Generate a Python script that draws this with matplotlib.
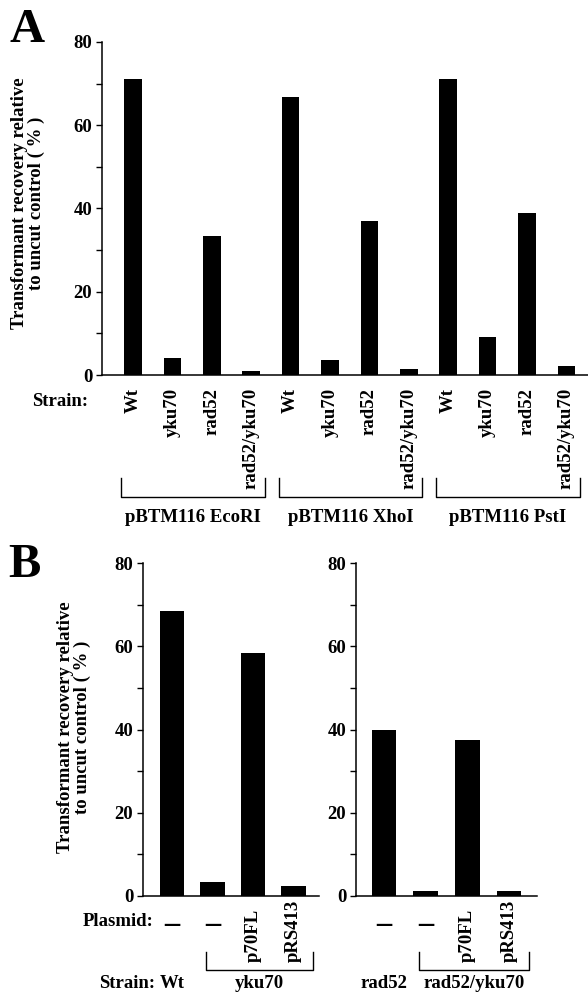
import matplotlib
matplotlib.use("Agg")
import matplotlib.pyplot as plt
from matplotlib.transforms import blended_transform_factory

plt.rcParams['font.family'] = ['Liberation Serif', 'DejaVu Serif']
plt.rcParams['font.weight'] = 'bold'

W, H = 588, 994
FS = 13.5

# ---- data ----
strains_a = ["Wt", "yku70", "rad52", "rad52/yku70"] * 3
values_a = [71, 4.0, 33.4, 0.9, 66.7, 3.6, 37.0, 1.4, 71, 9.2, 38.8, 2.2]
groups_a = ["pBTM116 EcoRI", "pBTM116 XhoI", "pBTM116 PstI"]

plasmid_b1 = ["–", "–", "p70FL", "pRS413"]
values_b1 = [68.5, 3.4, 58.4, 2.4]
strain_b1 = ["Wt", "yku70"]

plasmid_b2 = ["–", "–", "p70FL", "pRS413"]
values_b2 = [39.9, 1.2, 37.5, 1.3]
strain_b2 = ["rad52", "rad52/yku70"]

ylabel = "Transformant recovery relative\nto uncut control ( % )"


def px_axes(fig, x0, x1, ytop, ybot):
    return fig.add_axes([x0 / W, 1 - ybot / H, (x1 - x0) / W, (ybot - ytop) / H])


def fy(y):
    return 1 - y / H


def style(ax):
    for s in ["top", "right"]:
        ax.spines[s].set_visible(False)
    for s in ["left", "bottom"]:
        ax.spines[s].set_linewidth(1.1)
    ax.set_ylim(0, 80)
    ax.set_yticks(range(0, 81, 10))
    ax.set_yticklabels([str(v) if v % 20 == 0 else "" for v in range(0, 81, 10)],
                       fontsize=FS, fontweight='bold')
    ax.tick_params(axis='y', length=4, width=1, pad=3)


fig = plt.figure(figsize=(W / 100, H / 100), dpi=100)

# ---- panel A ----
sp = 39.4
axa = px_axes(fig, 102, 588, 42, 375)
xa = list(range(len(values_a)))
axa.bar(xa, values_a, width=17.5 / sp, color='black')
axa.set_xlim((102 - 133) / sp, (588 - 133) / sp)
style(axa)
axa.set_xticks(xa)
axa.set_xticklabels(strains_a, rotation=90, fontsize=FS, fontweight='bold')
axa.tick_params(axis='x', length=0, pad=9.4)
fig.text(28 / W, fy(203), ylabel, rotation=90, ha='center', va='center',
         fontsize=FS, fontweight='bold', linespacing=1.05, multialignment='center')
fig.text(9 / W, fy(42), "A", fontsize=35, fontweight='bold')
fig.text(32 / W, fy(402), "Strain:", fontsize=FS, fontweight='bold', va='center')

tra = blended_transform_factory(axa.transData, fig.transFigure)
for g, name in enumerate(groups_a):
    x0 = g * 4 - 0.30
    x1 = g * 4 + 3.34
    axa.plot([x0, x0, x1, x1], [fy(478), fy(497), fy(497), fy(478)],
             color='black', lw=1, transform=tra, clip_on=False)
    axa.text((x0 + x1) / 2, fy(517), name, transform=tra, ha='center', va='center',
             fontsize=FS, fontweight='bold')

# ---- panel B ----
fig.text(8 / W, fy(577), "B", fontsize=35, fontweight='bold')
fig.text(74 / W, fy(727), ylabel, rotation=90, ha='center', va='center',
         fontsize=FS, fontweight='bold', linespacing=1.05, multialignment='center')
fig.text(83 / W, fy(922), "Plasmid:", fontsize=FS, fontweight='bold', va='center')
fig.text(99 / W, fy(983), "Strain:", fontsize=FS, fontweight='bold', va='center')

panels = [
    (143, 319, 172, 40.5, values_b1, plasmid_b1, strain_b1),
    (356, 537, 384, 41.7, values_b2, plasmid_b2, strain_b2),
]
for ax0, ax1, xfirst, spb, vals, plas, strs in panels:
    ax = px_axes(fig, ax0, ax1, 563, 896)
    xb = list(range(len(vals)))
    ax.bar(xb, vals, width=24.5 / spb, color='black')
    ax.set_xlim((ax0 - xfirst) / spb, (ax1 - xfirst) / spb)
    style(ax)
    ax.set_xticks([])
    tr = blended_transform_factory(ax.transData, fig.transFigure)
    for i, p in enumerate(plas):
        if p == "–":
            ax.text(i, fy(924), p, transform=tr, ha='center', va='center',
                    fontsize=22, fontweight='bold')
        else:
            ax.text(i, fy(962), p, transform=tr, ha='center', va='bottom',
                    rotation=90, fontsize=FS, fontweight='bold')
    # bracket under the mutant strain bars
    x0, x1 = 1 - 0.17, 3 + 0.47
    ax.plot([x0, x0, x1, x1], [fy(952), fy(970), fy(970), fy(952)],
            color='black', lw=1, transform=tr, clip_on=False)
    ax.text(0, fy(983), strs[0], transform=tr, ha='center', va='center',
            fontsize=FS, fontweight='bold')
    ax.text((x0 + x1) / 2, fy(983), strs[1], transform=tr, ha='center', va='center',
            fontsize=FS, fontweight='bold')

fig.savefig("out.png", dpi=100)
